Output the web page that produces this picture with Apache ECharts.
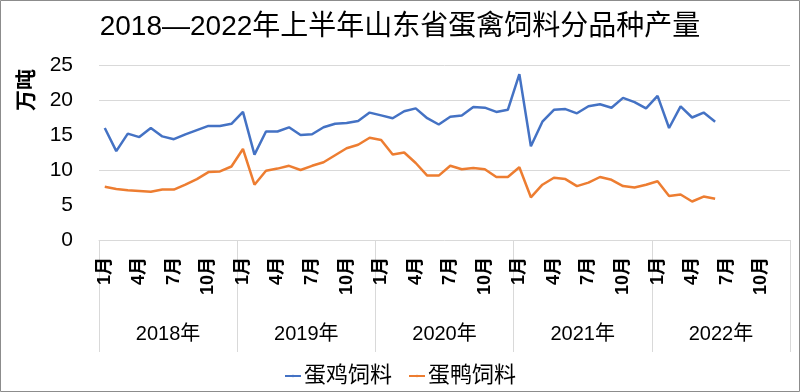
<!DOCTYPE html>
<html>
<head>
<meta charset="utf-8">
<script src="https://cdn.jsdelivr.net/npm/echarts@6/dist/echarts.min.js"></script>
<style>
html,body{margin:0;padding:0;background:#fff;}
#chart{width:800px;height:392px;}
</style>
</head>
<body>
<div id="chart"></div>
<script>
var titleText = '2018—2022年上半年山东省蛋禽饲料分品种产量';
var unitText = '万吨';
var years = ['2018年', '2019年', '2020年', '2021年', '2022年'];
var months = ['1月','2月','3月','4月','5月','6月','7月','8月','9月','10月','11月','12月'];
var yTicks = [0, 5, 10, 15, 20, 25];
var seriesNames = ['蛋鸡饲料', '蛋鸭饲料'];

// 蛋鸡饲料 (万吨), 2018-01 .. 2022-06
var layerFeed = [
  16.0, 12.7, 15.2, 14.7, 16.0, 14.8, 14.4, 15.1, 15.7, 16.3, 16.3, 16.6,
  18.3, 12.2, 15.5, 15.5, 16.1, 15.0, 15.1, 16.1, 16.6, 16.7, 17.0, 18.2,
  17.8, 17.4, 18.4, 18.8, 17.4, 16.5, 17.6, 17.8, 19.0, 18.9, 18.3, 18.6,
  23.7, 13.4, 16.9, 18.6, 18.7, 18.1, 19.1, 19.4, 18.9, 20.3, 19.7, 18.8,
  20.6, 16.0, 19.1, 17.5, 18.2, 16.9
];
// 蛋鸭饲料 (万吨), 2018-01 .. 2022-06
var duckFeed = [
  7.6, 7.3, 7.1, 7.0, 6.9, 7.2, 7.2, 7.9, 8.7, 9.7, 9.8, 10.5,
  13.0, 7.9, 9.9, 10.2, 10.6, 10.0, 10.6, 11.1, 12.1, 13.1, 13.6, 14.6,
  14.3, 12.2, 12.5, 11.0, 9.2, 9.2, 10.6, 10.1, 10.3, 10.1, 9.0, 9.0,
  10.4, 6.1, 7.9, 8.9, 8.7, 7.7, 8.2, 9.0, 8.6, 7.7, 7.5, 7.9,
  8.4, 6.3, 6.5, 5.5, 6.2, 5.9
];

var categories = [];
years.forEach(function (y) {
  months.forEach(function (m) { categories.push(y + m); });
});

var FONT = "'Liberation Sans', 'Noto Sans CJK SC', sans-serif";
var chart = echarts.init(document.getElementById('chart'), null, {renderer: 'canvas'});

chart.setOption({
  backgroundColor: '#ffffff',
  animation: false,
  textStyle: {fontFamily: FONT},
  title: {
    text: titleText,
    left: 'center',
    top: 8,
    textStyle: {fontFamily: FONT, fontSize: 28, fontWeight: 'normal', color: '#000'}
  },
  legend: {
    data: seriesNames,
    left: 'center',
    top: 360,
    itemWidth: 16,
    itemHeight: 3,
    itemGap: 16,
    textStyle: {fontFamily: FONT, fontSize: 22, color: '#000', padding: [0, 0, 0, -2]}
  },
  grid: {left: 99, right: 10, top: 65, bottom: 152, containLabel: false},
  xAxis: [
    {
      type: 'category',
      data: categories,
      boundaryGap: true,
      position: 'bottom',
      axisLine: {show: true, lineStyle: {color: '#d9d9d9', width: 1}},
      axisTick: {show: false},
      axisLabel: {
        interval: function (index) { return index % 3 === 0; },
        formatter: function (v) { return v.slice(5); },
        rotate: 90,
        margin: 17,
        fontSize: 18,
        fontWeight: 'bold',
        color: '#000',
        fontFamily: FONT
      },
      splitLine: {show: false}
    },
    {
      type: 'category',
      data: years,
      boundaryGap: true,
      position: 'bottom',
      axisLine: {show: false},
      axisTick: {show: true, length: 112, inside: false, lineStyle: {color: '#d9d9d9', width: 1}},
      axisLabel: {interval: 0, margin: 84, fontSize: 20, color: '#000', fontFamily: FONT},
      splitLine: {show: false}
    }
  ],
  yAxis: {
    type: 'value',
    min: yTicks[0],
    max: yTicks[yTicks.length - 1],
    interval: 5,
    axisLine: {show: false},
    axisTick: {show: false},
    axisLabel: {margin: 26, fontSize: 21, color: '#000', fontFamily: FONT},
    splitLine: {
      show: true,
      lineStyle: {
        color: ['rgba(0,0,0,0)', 'rgba(0,0,0,0)', '#d9d9d9', 'rgba(0,0,0,0)', '#d9d9d9', '#d9d9d9'],
        width: 1
      }
    }
  },
  graphic: [
    {
      type: 'text',
      x: 27, y: 90,
      rotation: Math.PI / 2,
      style: {text: unitText, fontFamily: FONT, fontSize: 21, fontWeight: 'bold', fill: '#000', align: 'center', verticalAlign: 'middle'}
    },
    {
      type: 'rect',
      shape: {x: 0.5, y: 0.5, width: 799, height: 391},
      style: {fill: 'none', stroke: '#8c8c8c', lineWidth: 1},
      silent: true
    }
  ],
  series: [
    {
      name: seriesNames[0],
      type: 'line',
      data: layerFeed,
      xAxisIndex: 0,
      symbol: 'none',
      lineStyle: {color: '#4472c4', width: 2.5},
      itemStyle: {color: '#4472c4'}
    },
    {
      name: seriesNames[1],
      type: 'line',
      data: duckFeed,
      xAxisIndex: 0,
      symbol: 'none',
      lineStyle: {color: '#ed7d31', width: 2.5},
      itemStyle: {color: '#ed7d31'}
    }
  ]
});
</script>
</body>
</html>
